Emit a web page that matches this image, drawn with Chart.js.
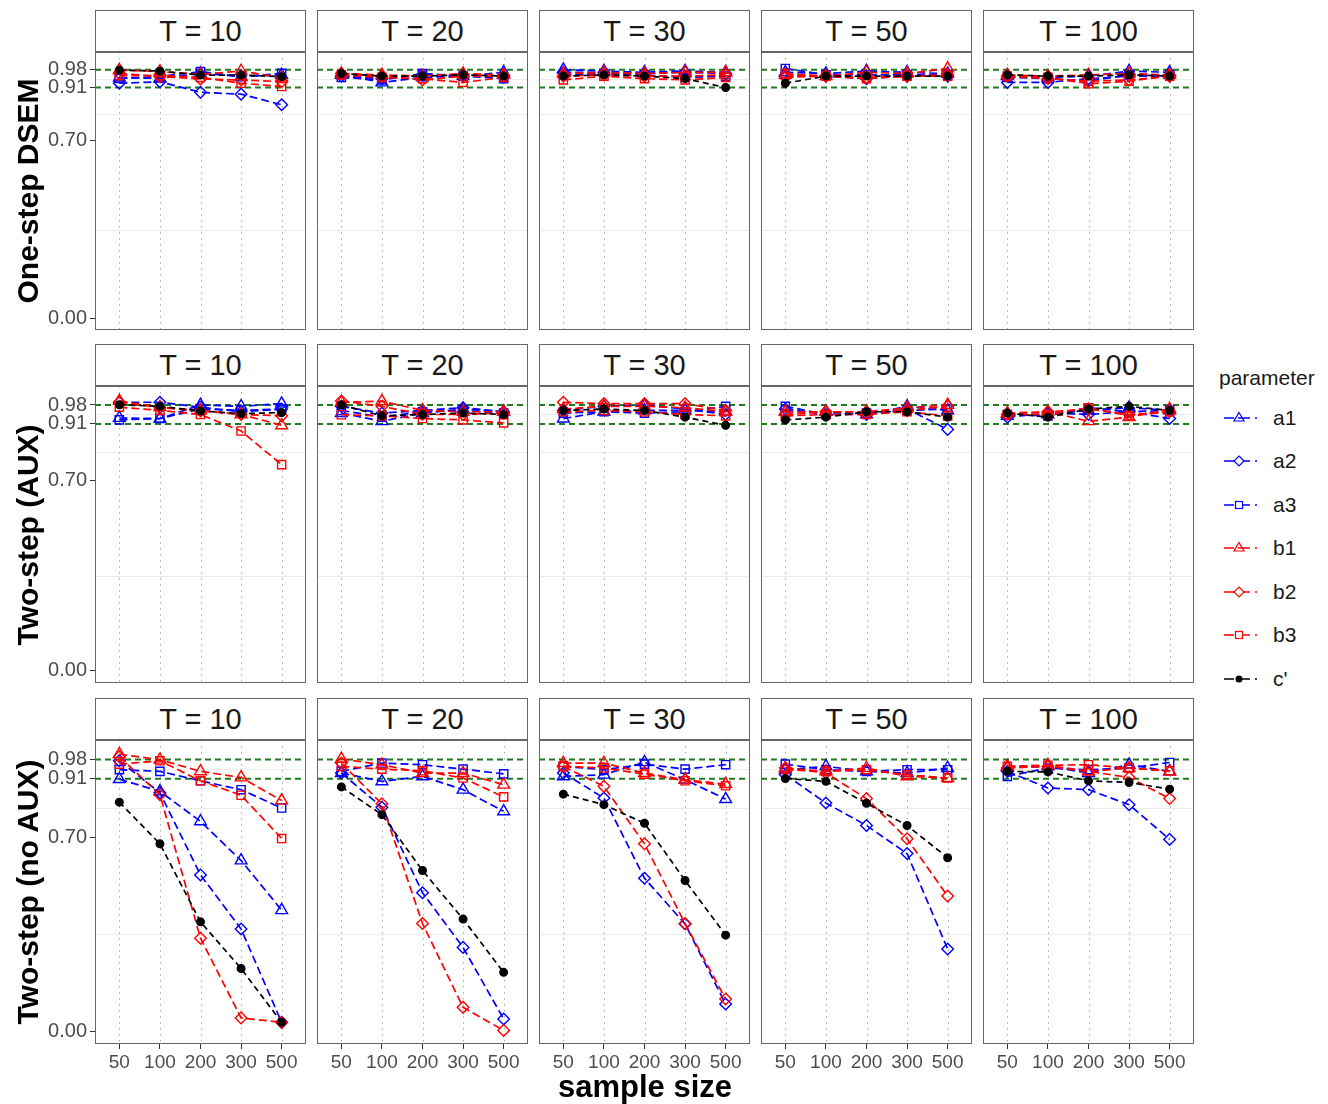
<!DOCTYPE html>
<html lang="en">
<head>
  <meta charset="UTF-8">
  <title>Coverage by sample size</title>
  <script src="https://cdn.jsdelivr.net/npm/chart.js"></script>
  <style>
    body {
      margin: 0;
      background: #FFFFFF;
      font-family: 'Liberation Sans', Arial, sans-serif;
    }

    #page {
      position: relative;
      width: 1328px;
      height: 1104px;
      overflow: hidden;
    }

    canvas {
      position: absolute;
    }

    .strip {
      position: absolute;
      box-sizing: border-box;
      border: 1px solid #666666;
      background: #FFFFFF;
      color: #1A1A1A;
      font-size: 29px;
      display: flex;
      align-items: center;
      justify-content: center;
    }

    .rowtitle {
      position: absolute;
      width: 360px;
      height: 36px;
      line-height: 36px;
      text-align: center;
      font-weight: bold;
      font-size: 30px;
      color: #000000;
      white-space: nowrap;
      transform: rotate(-90deg);
    }

    .xtitle {
      position: absolute;
      left: 445px;
      width: 400px;
      top: 1069px;
      text-align: center;
      font-weight: bold;
      font-size: 31px;
      color: #000000;
    }

    #legend {
      position: absolute;
      left: 1219px;
      top: 366px;
      font-size: 21px;
      color: #1A1A1A;
    }

    #legend .item {
      display: flex;
      align-items: center;
      height: 43.5px;
    }

    #legend .title {
      height: 30px;
      margin-bottom: 0;
    }

    #legend svg {
      margin-right: 8px;
    }
  </style>
</head>
<body>
  <div id="page"></div>

  <script>
    // x categories, facets and series
    const SAMPLE_SIZES = ['50', '100', '200', '300', '500'];
    const T_VALUES = [10, 20, 30, 50, 100];
    const METHODS = ['One-step DSEM', 'Two-step (AUX)', 'Two-step (no AUX)'];
    const PARAMS = ['a1', 'a2', 'a3', 'b1', 'b2', 'b3', "c'"];
    const Y_TICKS = [0, 0.70, 0.91, 0.98];
    const Y_MINOR = [0.35, 0.805, 0.945];
    const REF_LINES = [0.98, 0.91];

    // rows = a1, a2, a3, b1, b2, b3, c' ; columns = sample sizes
    const DSEM_T10 = [
      [0.949, 0.946, 0.966, 0.953, 0.960],
      [0.927, 0.933, 0.891, 0.884, 0.842],
      [0.946, 0.953, 0.973, 0.953, 0.966],
      [0.979, 0.973, 0.962, 0.975, 0.949],
      [0.966, 0.953, 0.944, 0.940, 0.933],
      [0.957, 0.957, 0.950, 0.927, 0.914],
      [0.979, 0.975, 0.959, 0.959, 0.953]
    ];
    const DSEM_T20 = [
      [0.960, 0.930, 0.950, 0.955, 0.970],
      [0.955, 0.945, 0.960, 0.960, 0.950],
      [0.950, 0.940, 0.965, 0.955, 0.945],
      [0.965, 0.960, 0.955, 0.965, 0.960],
      [0.965, 0.955, 0.940, 0.955, 0.955],
      [0.960, 0.950, 0.945, 0.930, 0.950],
      [0.965, 0.955, 0.955, 0.960, 0.955]
    ];
    const DSEM_T30 = [
      [0.980, 0.975, 0.970, 0.975, 0.970],
      [0.970, 0.970, 0.965, 0.970, 0.965],
      [0.960, 0.965, 0.960, 0.950, 0.955],
      [0.965, 0.970, 0.965, 0.970, 0.970],
      [0.955, 0.960, 0.955, 0.955, 0.960],
      [0.940, 0.955, 0.945, 0.940, 0.950],
      [0.955, 0.960, 0.955, 0.945, 0.910]
    ];
    const DSEM_T50 = [
      [0.970, 0.965, 0.975, 0.970, 0.965],
      [0.955, 0.955, 0.945, 0.955, 0.955],
      [0.985, 0.960, 0.960, 0.960, 0.960],
      [0.960, 0.955, 0.970, 0.965, 0.985],
      [0.950, 0.955, 0.950, 0.955, 0.960],
      [0.965, 0.955, 0.945, 0.955, 0.955],
      [0.927, 0.955, 0.955, 0.955, 0.955]
    ];
    const DSEM_T100 = [
      [0.955, 0.950, 0.955, 0.975, 0.970],
      [0.930, 0.930, 0.945, 0.955, 0.955],
      [0.950, 0.945, 0.935, 0.960, 0.960],
      [0.960, 0.955, 0.960, 0.965, 0.960],
      [0.955, 0.945, 0.935, 0.940, 0.955],
      [0.955, 0.950, 0.925, 0.935, 0.955],
      [0.960, 0.955, 0.955, 0.960, 0.955]
    ];

    const AUX_T10 = [
      [0.932, 0.930, 0.980, 0.975, 0.985],
      [0.990, 0.990, 0.972, 0.955, 0.965],
      [0.925, 0.930, 0.965, 0.960, 0.965],
      [0.995, 0.972, 0.960, 0.945, 0.905],
      [0.990, 0.970, 0.958, 0.945, 0.940],
      [0.972, 0.960, 0.945, 0.884, 0.760],
      [0.981, 0.975, 0.958, 0.948, 0.952]
    ];
    const AUX_T20 = [
      [0.950, 0.920, 0.950, 0.965, 0.955],
      [0.975, 0.950, 0.960, 0.970, 0.955],
      [0.960, 0.935, 0.955, 0.960, 0.950],
      [0.990, 0.994, 0.960, 0.955, 0.955],
      [0.995, 0.975, 0.945, 0.945, 0.950],
      [0.944, 0.940, 0.930, 0.925, 0.914],
      [0.980, 0.940, 0.945, 0.950, 0.945]
    ];
    const AUX_T30 = [
      [0.930, 0.955, 0.960, 0.960, 0.955],
      [0.960, 0.975, 0.980, 0.965, 0.945],
      [0.950, 0.955, 0.950, 0.955, 0.975],
      [0.965, 0.975, 0.975, 0.970, 0.955],
      [0.990, 0.985, 0.985, 0.985, 0.960],
      [0.955, 0.960, 0.955, 0.945, 0.940],
      [0.960, 0.965, 0.960, 0.935, 0.905]
    ];
    const AUX_T50 = [
      [0.955, 0.955, 0.945, 0.975, 0.960],
      [0.965, 0.945, 0.945, 0.965, 0.890],
      [0.975, 0.945, 0.950, 0.960, 0.965],
      [0.955, 0.955, 0.955, 0.970, 0.980],
      [0.945, 0.955, 0.955, 0.960, 0.975],
      [0.940, 0.945, 0.945, 0.955, 0.940],
      [0.925, 0.935, 0.955, 0.955, 0.935]
    ];
    const AUX_T100 = [
      [0.940, 0.945, 0.960, 0.970, 0.960],
      [0.935, 0.950, 0.945, 0.955, 0.930],
      [0.945, 0.940, 0.970, 0.955, 0.960],
      [0.950, 0.955, 0.920, 0.935, 0.965],
      [0.945, 0.955, 0.965, 0.945, 0.955],
      [0.945, 0.945, 0.970, 0.940, 0.955],
      [0.950, 0.935, 0.965, 0.975, 0.960]
    ];

    const NOAUX_T10 = [
      [0.909, 0.865, 0.757, 0.616, 0.437],
      [0.975, 0.860, 0.564, 0.369, 0.033],
      [0.943, 0.937, 0.903, 0.871, 0.805],
      [0.999, 0.979, 0.937, 0.915, 0.832],
      [0.990, 0.853, 0.336, 0.049, 0.033],
      [0.963, 0.975, 0.903, 0.851, 0.695],
      [0.826, 0.676, 0.395, 0.227, 0.033]
    ];
    const NOAUX_T20 = [
      [0.931, 0.901, 0.919, 0.871, 0.793],
      [0.931, 0.808, 0.500, 0.303, 0.045],
      [0.937, 0.967, 0.961, 0.945, 0.928],
      [0.982, 0.961, 0.931, 0.931, 0.889],
      [0.967, 0.820, 0.389, 0.087, 0.004],
      [0.955, 0.945, 0.939, 0.913, 0.845],
      [0.881, 0.781, 0.580, 0.405, 0.213]
    ];
    const NOAUX_T30 = [
      [0.919, 0.925, 0.970, 0.907, 0.837],
      [0.931, 0.841, 0.552, 0.387, 0.099],
      [0.955, 0.943, 0.963, 0.945, 0.961],
      [0.967, 0.967, 0.931, 0.907, 0.891],
      [0.955, 0.883, 0.676, 0.389, 0.117],
      [0.955, 0.949, 0.927, 0.903, 0.885],
      [0.855, 0.817, 0.750, 0.544, 0.347]
    ];
    const NOAUX_T50 = [
      [0.943, 0.955, 0.937, 0.931, 0.949],
      [0.925, 0.823, 0.742, 0.641, 0.297],
      [0.963, 0.943, 0.937, 0.943, 0.943],
      [0.949, 0.937, 0.949, 0.919, 0.913],
      [0.949, 0.931, 0.839, 0.694, 0.488],
      [0.943, 0.937, 0.943, 0.925, 0.913],
      [0.911, 0.901, 0.822, 0.742, 0.626]
    ];
    const NOAUX_T100 = [
      [0.951, 0.955, 0.931, 0.961, 0.937],
      [0.937, 0.877, 0.871, 0.817, 0.692],
      [0.919, 0.949, 0.943, 0.949, 0.969],
      [0.955, 0.959, 0.937, 0.949, 0.937],
      [0.949, 0.955, 0.937, 0.915, 0.839],
      [0.955, 0.959, 0.961, 0.949, 0.939],
      [0.937, 0.935, 0.903, 0.897, 0.873]
    ];

    const GRID_DATA = [
      [DSEM_T10, DSEM_T20, DSEM_T30, DSEM_T50, DSEM_T100],
      [AUX_T10, AUX_T20, AUX_T30, AUX_T50, AUX_T100],
      [NOAUX_T10, NOAUX_T20, NOAUX_T30, NOAUX_T50, NOAUX_T100]
    ];

    // styling
    const SERIES_COLORS = ['#0000FF', '#0000FF', '#0000FF', '#FF0000', '#FF0000', '#FF0000', '#000000'];
    const SERIES_SHAPES = ['triangle', 'rectRot', 'rect', 'triangle', 'rectRot', 'rect', 'circle'];
    const SERIES_RADIUS = [6.8, 5.8, 5.8, 6.8, 5.8, 5.8, 3.8];

    // layout
    const COL_LEFT = [95, 317, 539, 761, 983];
    const PANEL_W = 211;
    const ROW_TOP = [52, 386, 740];
    const ROW_H = [278, 297, 304];
    const STRIP_TOP = [10, 344, 698];
    const Y_LABEL_W = 60;
    const X_LABEL_H = 36;

    Chart.defaults.font.family = "'Liberation Sans', Arial, sans-serif";

    const page = document.getElementById('page');

    const panelDecor = {
      id: 'panelDecor',
      beforeDatasetsDraw(chart) {
        const { ctx, chartArea: a, scales } = chart;
        ctx.save();
        // faint minor gridlines
        ctx.strokeStyle = '#EBEBEB';
        ctx.lineWidth = 1;
        Y_MINOR.forEach(v => {
          const y = Math.round(scales.y.getPixelForValue(v)) + 0.5;
          ctx.beginPath(); ctx.moveTo(a.left, y); ctx.lineTo(a.right, y); ctx.stroke();
        });
        // dotted verticals at each sample size
        ctx.strokeStyle = '#ABABAB';
        ctx.setLineDash([1.5, 4.5]);
        SAMPLE_SIZES.forEach((s, i) => {
          const x = Math.round(scales.x.getPixelForValue(i + 1)) + 0.5;
          ctx.beginPath(); ctx.moveTo(x, a.top); ctx.lineTo(x, a.bottom); ctx.stroke();
        });
        // reference lines
        ctx.strokeStyle = '#1E7B1E';
        ctx.lineWidth = 2;
        ctx.setLineDash([6, 4]);
        REF_LINES.forEach(v => {
          const y = scales.y.getPixelForValue(v);
          ctx.beginPath(); ctx.moveTo(a.left, y); ctx.lineTo(a.right, y); ctx.stroke();
        });
        ctx.restore();
      },
      afterDraw(chart) {
        const { ctx, chartArea: a } = chart;
        ctx.save();
        ctx.strokeStyle = '#666666';
        ctx.lineWidth = 1;
        ctx.strokeRect(a.left + 0.5, a.top + 0.5, a.right - a.left - 1, a.bottom - a.top - 1);
        ctx.restore();
      }
    };

    function makePanel(r, c) {
      const showY = c === 0;
      const showX = r === 2;
      const canvas = document.createElement('canvas');
      const w = PANEL_W + (showY ? Y_LABEL_W : 0);
      const h = ROW_H[r] + (showX ? X_LABEL_H : 0);
      canvas.width = w;
      canvas.height = h;
      canvas.style.left = (COL_LEFT[c] - (showY ? Y_LABEL_W : 0)) + 'px';
      canvas.style.top = ROW_TOP[r] + 'px';
      page.appendChild(canvas);

      const strip = document.createElement('div');
      strip.className = 'strip';
      strip.style.left = COL_LEFT[c] + 'px';
      strip.style.top = STRIP_TOP[r] + 'px';
      strip.style.width = PANEL_W + 'px';
      strip.style.height = (ROW_TOP[r] - STRIP_TOP[r]) + 'px';
      strip.textContent = 'T = ' + T_VALUES[c];
      page.appendChild(strip);

      const values = GRID_DATA[r][c];
      const datasets = PARAMS.map((p, k) => ({
        label: p,
        data: values[k].map((v, i) => ({ x: i + 1, y: v })),
        borderColor: SERIES_COLORS[k],
        backgroundColor: SERIES_COLORS[k],
        borderWidth: 1.7,
        borderDash: k === 6 ? [6, 4] : [8, 4],
        pointStyle: SERIES_SHAPES[k],
        pointRadius: SERIES_RADIUS[k],
        pointBorderWidth: 1.4,
        pointBorderColor: SERIES_COLORS[k],
        pointBackgroundColor: k === 6 ? '#000000' : 'rgba(0,0,0,0)',
        tension: 0,
        fill: false,
        clip: 10,
        order: PARAMS.length - k
      }));

      new Chart(canvas, {
        type: 'line',
        data: { datasets },
        options: {
          responsive: false,
          animation: false,
          layout: { padding: 0, autoPadding: false },
          plugins: { legend: { display: false }, tooltip: { enabled: false } },
          scales: {
            x: {
              type: 'linear',
              min: 0.4,
              max: 5.6,
              display: showX,
              afterBuildTicks: s => { s.ticks = SAMPLE_SIZES.map((_, i) => ({ value: i + 1 })); },
              afterFit: s => {
                s.height = showX ? X_LABEL_H : 0;
                s.paddingLeft = 0; s.paddingRight = 0;
              },
              ticks: {
                autoSkip: false,
                maxRotation: 0,
                padding: 2,
                color: '#4D4D4D',
                font: { size: 19 },
                callback: v => SAMPLE_SIZES[Math.round(v) - 1]
              },
              grid: { drawOnChartArea: false, drawTicks: true, tickLength: 5, color: '#333333' },
              border: { display: false }
            },
            y: {
              type: 'linear',
              min: -0.045,
              max: 1.05,
              display: showY,
              afterBuildTicks: s => { s.ticks = Y_TICKS.map(v => ({ value: v })); },
              afterFit: s => {
                s.width = showY ? Y_LABEL_W : 0;
                s.paddingTop = 0; s.paddingBottom = 0;
              },
              ticks: {
                autoSkip: false,
                padding: 3,
                color: '#4D4D4D',
                font: { size: 20 },
                callback: v => v.toFixed(2)
              },
              grid: { drawOnChartArea: false, drawTicks: true, tickLength: 5, color: '#333333' },
              border: { display: false }
            }
          }
        },
        plugins: [panelDecor]
      });
    }

    for (let r = 0; r < METHODS.length; r++) {
      for (let c = 0; c < T_VALUES.length; c++) makePanel(r, c);
      const t = document.createElement('div');
      t.className = 'rowtitle';
      t.textContent = METHODS[r];
      const cy = ROW_TOP[r] + ROW_H[r] / 2;
      t.style.left = (28 - 180) + 'px';
      t.style.top = (cy - 18) + 'px';
      page.appendChild(t);
    }

    const xt = document.createElement('div');
    xt.className = 'xtitle';
    xt.textContent = 'sample size';
    page.appendChild(xt);

    // legend
    const legend = document.createElement('div');
    legend.id = 'legend';
    legend.innerHTML = '<div class="title">parameter</div>';
    const MARKERS = {
      triangle: c => `<polygon points="20,4.5 25,13 15,13" fill="none" stroke="${c}" stroke-width="1.2"/>`,
      rectRot: c => `<polygon points="20,5 25,10 20,15 15,10" fill="white" stroke="${c}" stroke-width="1.2"/>`,
      rect: c => `<rect x="16.5" y="6.5" width="7" height="7" fill="white" stroke="${c}" stroke-width="1.2"/>`,
      circle: c => `<circle cx="20" cy="10" r="3.5" fill="${c}"/>`
    };
    PARAMS.forEach((p, k) => {
      const col = SERIES_COLORS[k];
      const item = document.createElement('div');
      item.className = 'item';
      item.innerHTML =
        `<svg width="46" height="20"><line x1="5" y1="10" x2="40" y2="10" stroke="${col}" stroke-width="1.4" stroke-dasharray="10,4,12,5,2"/>` +
        MARKERS[SERIES_SHAPES[k]](col) + `</svg><span>${p}</span>`;
      legend.appendChild(item);
    });
    page.appendChild(legend);
  </script>
</body>
</html>
